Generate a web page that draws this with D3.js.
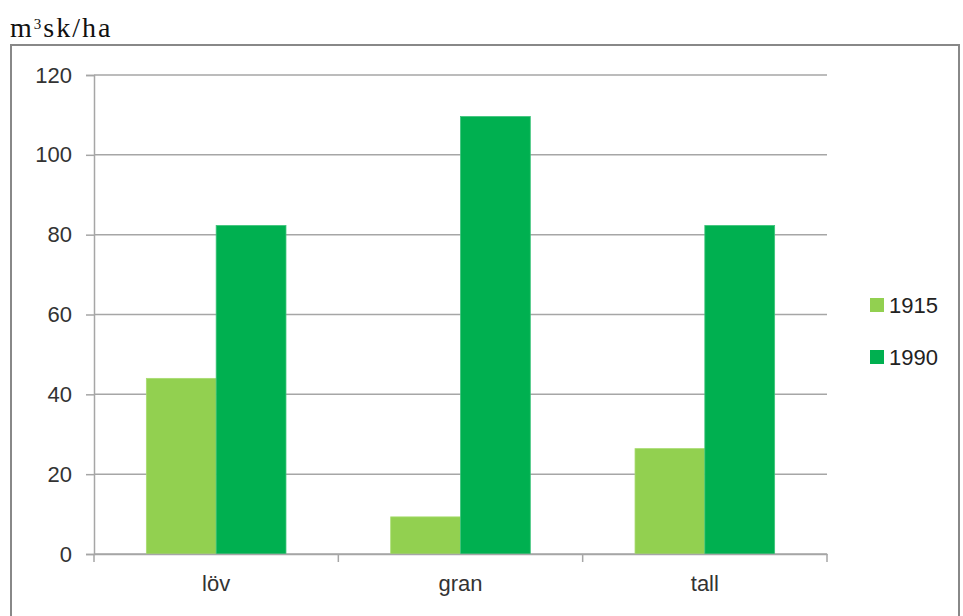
<!DOCTYPE html>
<html>
<head>
<meta charset="utf-8">
<script src="https://cdn.jsdelivr.net/npm/d3@7"></script>
<style>
  body { margin: 0; background: #fff; }
</style>
</head>
<body>
<script>
var categories = ['löv', 'gran', 'tall'];
var years = ['1915', '1990'];
var values1915 = [44, 9.3, 26.4];
var values1990 = [82.3, 109.6, 82.3];
var yTicks = [0, 20, 40, 60, 80, 100, 120];
var colors = ['#92D050', '#00B050'];

function init(){
	var width = 963, height = 616;
	var font = '"Liberation Sans", sans-serif';
	var svg = d3.select('body').append('svg').attr('width', width).attr('height', height);

	// outer chart frame
	svg.append('rect')
		.attr('x', 11).attr('y', 45)
		.attr('width', 948).attr('height', 600)
		.attr('fill', 'none')
		.attr('stroke', '#888')
		.attr('stroke-width', 2);

	// unit title
	var title = svg.append('text')
		.attr('x', 10).attr('y', 37)
		.attr('fill', '#111')
		.style('font-family', '"Liberation Serif", serif')
		.style('font-size', '28px')
		.style('letter-spacing', '2px');
	title.append('tspan').text('m');
	title.append('tspan').text('3').attr('dy', -8).style('font-size', '15px');
	title.append('tspan').text('sk/ha').attr('dy', 8);

	var x = d3.scaleBand().domain(categories).range([94, 827]);
	var x1 = d3.scaleBand().domain(years).range([0, x.bandwidth()]).paddingOuter(0.75).paddingInner(0);
	var y = d3.scaleLinear().domain([0, 120]).range([554, 75]);

	// gridlines
	svg.append('g').selectAll('line').data(yTicks).join('line')
		.attr('x1', 94).attr('x2', 827)
		.attr('y1', function(d){ return y(d); })
		.attr('y2', function(d){ return y(d); })
		.attr('stroke', '#a6a6a6')
		.attr('stroke-width', 1.5);

	// bars
	var series = [values1915, values1990];
	series.forEach(function(vals, si){
		svg.append('g').selectAll('rect').data(vals).join('rect')
			.attr('x', function(d, i){ return x(categories[i]) + x1(years[si]); })
			.attr('width', x1.bandwidth())
			.attr('y', function(d){ return y(d); })
			.attr('height', function(d){ return y(0) - y(d); })
			.attr('fill', colors[si])
			.attr('stroke', si == 0 ? '#a8dc70' : '#3cc47a')
			.attr('stroke-width', 0.8);
	});

	// y axis
	var yAxis = svg.append('g').attr('transform', 'translate(94,0)')
		.call(d3.axisLeft(y).tickValues(yTicks).tickSize(8).tickPadding(14));
	yAxis.select('.domain').attr('stroke', '#a6a6a6').attr('stroke-width', 1.5);
	yAxis.selectAll('.tick line').attr('stroke', '#a6a6a6').attr('stroke-width', 1.5);
	yAxis.selectAll('.tick text')
		.attr('fill', '#333')
		.style('font-family', font)
		.style('font-size', '22px');

	// x axis
	var xAxis = svg.append('g').attr('transform', 'translate(0,554)')
		.call(d3.axisBottom(x).tickSize(0).tickPadding(21));
	xAxis.select('.domain').attr('stroke', '#a6a6a6').attr('stroke-width', 1.5);
	xAxis.selectAll('.tick text')
		.attr('fill', '#333')
		.style('font-family', font)
		.style('font-size', '22px');
	// category separators
	svg.append('g').selectAll('line').data([94, 94 + x.step(), 94 + 2 * x.step(), 827]).join('line')
		.attr('x1', function(d){ return d; }).attr('x2', function(d){ return d; })
		.attr('y1', 554).attr('y2', 562)
		.attr('stroke', '#a6a6a6').attr('stroke-width', 1.5);

	// legend
	var legend = svg.append('g').selectAll('g').data(years).join('g')
		.attr('transform', function(d, i){ return 'translate(870,' + (298 + i * 52) + ')'; });
	legend.append('rect')
		.attr('width', 14).attr('height', 14)
		.attr('fill', function(d, i){ return colors[i]; });
	legend.append('text')
		.attr('x', 19).attr('y', 15)
		.text(function(d){ return d; })
		.attr('fill', '#222')
		.style('font-family', font)
		.style('font-size', '22px');
}
init();
</script>
</body>
</html>
